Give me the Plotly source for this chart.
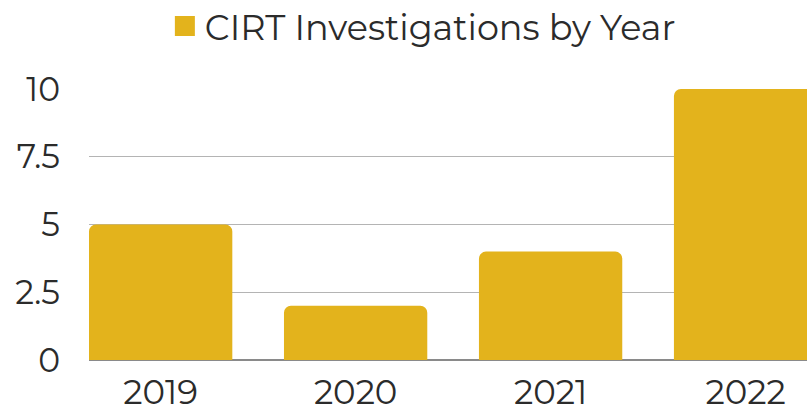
import plotly.graph_objects as go

years = ["2019", "2020", "2021", "2022"]
investigations = [5, 2, 4, 10]
y_ticks = [0, 2.5, 5, 7.5, 10]
y_tick_labels = ["0", "2.5", "5", "7.5", "10"]
series_name = "CIRT Investigations by Year"

bar_color = "#E3B31C"
text_color = "#2b2b2b"
font_family = "Montserrat, DejaVu Sans, sans-serif"

fig = go.Figure()
fig.add_trace(go.Bar(
    x=list(range(len(years))),
    y=investigations,
    name=series_name,
    marker=dict(color=bar_color, cornerradius=7, line=dict(width=0)),
    width=0.735,
    showlegend=False,
))
# legend entry with a larger square symbol
fig.add_trace(go.Scatter(
    x=[None], y=[None], mode="markers", name=series_name,
    marker=dict(symbol="square", size=16, color=bar_color,
                line=dict(width=4, color=bar_color)),
    showlegend=True, hoverinfo="skip",
))

fig.update_layout(
    width=807, height=413,
    margin=dict(l=89, r=0, t=89, b=53, autoexpand=False),
    paper_bgcolor="white", plot_bgcolor="white",
    font=dict(family=font_family, size=28, color=text_color),
    showlegend=True,
    legend=dict(
        orientation="h", x=0.524, xanchor="center", xref="container",
        y=1.34, yanchor="top", yref="paper",
        font=dict(size=35, color=text_color),
        itemsizing="trace", bgcolor="rgba(0,0,0,0)",
    ),
)

fig.update_xaxes(
    range=[-0.3675, 3.315],
    tickmode="array", tickvals=list(range(len(years))), ticktext=years,
    showgrid=False, zeroline=False, showline=False, ticks="",
    tickfont=dict(size=34, color=text_color), ticklabelstandoff=9,
)
fig.update_yaxes(
    range=[0, 10], tickmode="array", tickvals=y_ticks, ticktext=y_tick_labels,
    showgrid=True, gridcolor="#b4b4b4", gridwidth=1,
    zeroline=True, zerolinecolor="#8a8a8a", zerolinewidth=1.5,
    showline=False, ticks="", ticklabelstandoff=28,
    tickfont=dict(size=33, color=text_color),
)

fig.write_html("out.html", post_script="document.body.style.margin='0';",
               config={"displayModeBar": False})
